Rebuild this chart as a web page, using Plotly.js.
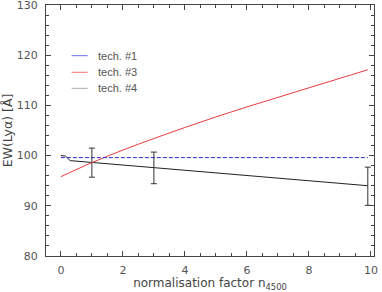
<!DOCTYPE html>
<html><head><meta charset="utf-8">
<script src="https://cdn.plot.ly/plotly-3.0.1.min.js"></script>
<style>html,body{margin:0;padding:0;background:#fff;}#c{width:382px;height:292px;}</style>
</head><body><div id="c"></div>
<script>
const legendNames = ["tech. #1", "tech. #3", "tech. #4"];
const tech1X = [0, 9.9];
const tech1Y = [99.6, 99.6];
const tech3X = [0, 1, 2, 3, 4, 5, 6, 7, 8, 9, 9.9];
const tech3Y = [95.8, 98.6, 101.1, 103.4, 105.6, 107.7, 109.7, 111.6, 113.5, 115.4, 117.1];
const tech4X = [0, 0.15, 0.3, 1, 3, 9.9];
const tech4Y = [100.0, 99.9, 99.0, 98.6, 97.6, 94.0];
const errX = [1, 3, 9.9];
const errY = [98.6, 97.6, 94.0];
const errPlus = [2.9, 3.1, 3.7];
const errMinus = [2.9, 3.2, 3.9];

const tickFont = {family: "DejaVu Sans, sans-serif", size: 11, color: "#555"};
const titleFont = {family: "DejaVu Sans, sans-serif", size: 12, color: "#444"};
const legFont = {family: "Liberation Sans, Arial, sans-serif", size: 11, color: "#555"};
const traces = [
  {x: tech4X, y: tech4Y, mode: "lines", line: {color: "#222", width: 1}, showlegend: false},
  {x: errX, y: errY, mode: "lines", line: {width: 0}, showlegend: false,
   error_y: {type: "data", symmetric: false, array: errPlus, arrayminus: errMinus, color: "#333", thickness: 1, width: 3}},
  {x: tech3X, y: tech3Y, mode: "lines", line: {color: "#e83c3c", width: 1, shape: "spline"}, showlegend: false},
  {x: tech1X, y: tech1Y, mode: "lines", line: {color: "#2a2ad0", width: 1, dash: "4px,2px"}, showlegend: false}
];
const legColors = ["#6a6ae0", "#ee7070", "#aaaaaa"];
const legY = [0.798, 0.732, 0.668];
const shapes = [], annotations = [];
for (let i = 0; i < 3; i++) {
  shapes.push({type: "line", xref: "paper", yref: "paper", x0: 0.078, x1: 0.127, y0: legY[i], y1: legY[i], line: {color: legColors[i], width: 1}});
  annotations.push({xref: "paper", yref: "paper", x: 0.152, y: legY[i], xanchor: "left", yanchor: "middle", text: legendNames[i], showarrow: false, font: legFont});
}
const axisCommon = {showgrid: false, zeroline: false, showline: true, linecolor: "#444", linewidth: 1, mirror: "ticks",
  ticks: "inside", ticklen: 5, tickcolor: "#444", tickfont: tickFont, ticklabeloverflow: "allow"};
const layout = {
  width: 382, height: 292, margin: {l: 46, r: 8, t: 5, b: 36},
  paper_bgcolor: "#fff", plot_bgcolor: "#fff", font: tickFont, showlegend: false,
  xaxis: Object.assign({}, axisCommon, {range: [-0.48, 10.1], dtick: 2, tick0: 0, ticklabelstandoff: 4,
    minor: {dtick: 0.5, tick0: 0, ticks: "inside", ticklen: 3, tickcolor: "#444"},
    title: {text: "normalisation factor n<sub>4500</sub>", font: titleFont, standoff: 3}}),
  yaxis: Object.assign({}, axisCommon, {range: [80, 130.001], dtick: 10, tick0: 80, ticklabelstandoff: 5,
    minor: {dtick: 2, tick0: 80, ticks: "inside", ticklen: 3, tickcolor: "#444"},
    title: {text: "EW(Lyα) [Å]", font: {family: "DejaVu Sans, sans-serif", size: 12.5, color: "#444"}, standoff: 4}}),
  shapes: shapes, annotations: annotations
};
Plotly.newPlot("c", traces, layout, {staticPlot: true, displayModeBar: false});
</script></body></html>
